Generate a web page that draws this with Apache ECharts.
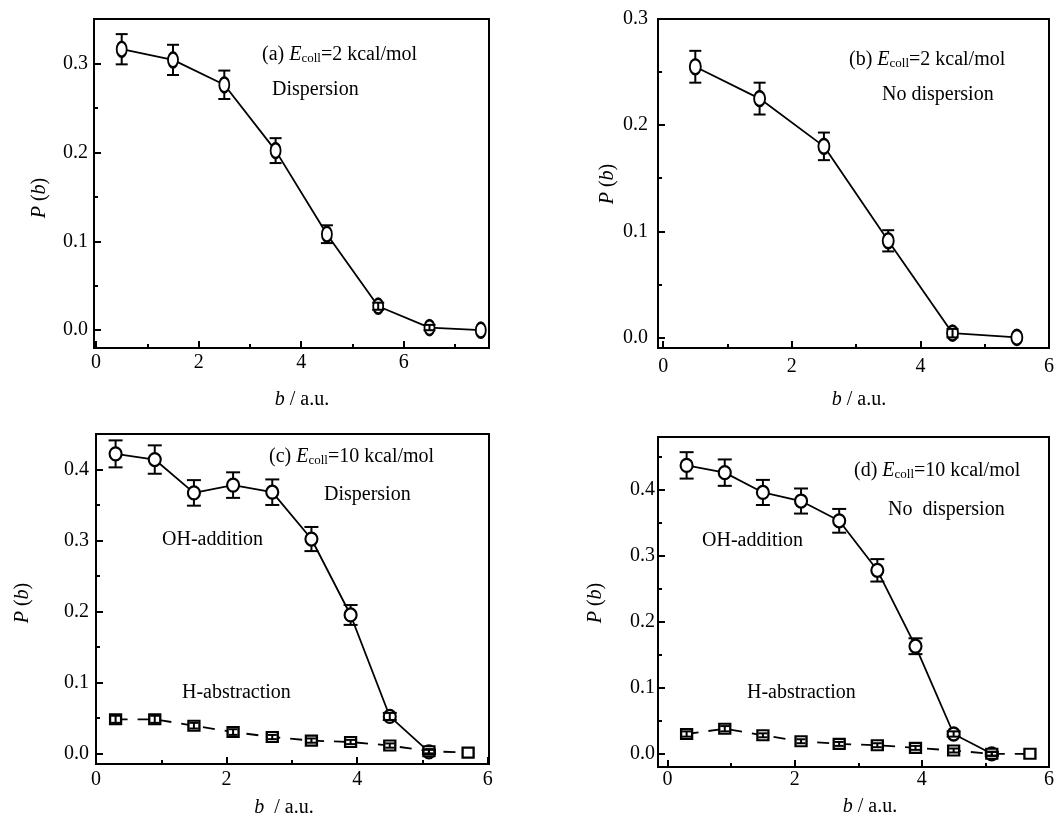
<!DOCTYPE html>
<html>
<head>
<meta charset="utf-8">
<script src="https://cdn.jsdelivr.net/npm/echarts@6/dist/echarts.min.js"></script>
<style>
html,body{margin:0;padding:0;background:#fff;}
#chart{width:1058px;height:817px;}
</style>
</head>
<body>
<div id="chart"></div>
<script>
// ---- data ----
const xA = [0.5, 1.5, 2.5, 3.5, 4.5, 5.5, 6.5, 7.5];
const yA = [0.316, 0.304, 0.276, 0.202, 0.108, 0.027, 0.003, 0.000];
const eA = [0.017, 0.017, 0.016, 0.014, 0.010, 0.004, 0.003, 0];

const xB = [0.5, 1.5, 2.5, 3.5, 4.5, 5.5];
const yB = [0.255, 0.225, 0.180, 0.091, 0.004, 0.000];
const eB = [0.015, 0.015, 0.013, 0.010, 0.004, 0];

const xOH = [0.3, 0.9, 1.5, 2.1, 2.7, 3.3, 3.9, 4.5, 5.1];
const xH = [0.3, 0.9, 1.5, 2.1, 2.7, 3.3, 3.9, 4.5, 5.1, 5.7];

const yC_OH = [0.422, 0.414, 0.367, 0.378, 0.368, 0.302, 0.195, 0.052, 0.002];
const eC_OH = [0.019, 0.020, 0.018, 0.018, 0.018, 0.017, 0.014, 0.005, 0.003];
const yC_H = [0.048, 0.048, 0.039, 0.030, 0.023, 0.018, 0.016, 0.011, 0.003, 0.001];
const eC_H = [0.005, 0.005, 0.004, 0.004, 0.003, 0.003, 0.003, 0.003, 0.003, 0];

const yD_OH = [0.437, 0.426, 0.396, 0.383, 0.353, 0.278, 0.163, 0.030, 0.000];
const eD_OH = [0.020, 0.020, 0.019, 0.019, 0.018, 0.017, 0.012, 0.004, 0.003];
const yD_H = [0.030, 0.038, 0.028, 0.019, 0.015, 0.013, 0.009, 0.005, 0.000, 0.000];
const eD_H = [0.004, 0.004, 0.003, 0.003, 0.003, 0.003, 0.003, 0.003, 0.003, 0];

const xMajor_A = [0, 2, 4, 6];
const xMinor_A = [1, 3, 5, 7];
const xMajor = [0, 2, 4, 6];
const xMinor = [1, 3, 5];
const yMajorAB = [0, 0.1, 0.2, 0.3];
const yMinorAB = [0.05, 0.15, 0.25];
const yMajorCD = [0, 0.1, 0.2, 0.3, 0.4];
const yMinorCD = [0.05, 0.15, 0.25, 0.35, 0.45];

// ---- helpers ----
const FF = '"Liberation Serif","Times New Roman",serif';
const BLACK = '#000';

const grids = [
  {left: 94, top: 19, width: 395, height: 329},
  {left: 658, top: 19, width: 391, height: 329},
  {left: 96, top: 434, width: 393, height: 330},
  {left: 658, top: 437, width: 391, height: 330}
].map(g => Object.assign({show: true, borderColor: BLACK, borderWidth: 2, backgroundColor: 'transparent'}, g));

const panels = [
  {x: [-0.04, 7.66], y: [-0.02, 0.35], xMaj: xMajor_A, xMin: xMinor_A, yMaj: yMajorAB, yMin: yMinorAB, xm: 5, ym: 6},
  {x: [-0.08, 6.0], y: [-0.01, 0.3], xMaj: xMajor, xMin: xMinor, yMaj: yMajorAB, yMin: yMinorAB, xm: 9, ym: 10},
  {x: [0, 6.02], y: [-0.015, 0.45], xMaj: xMajor, xMin: xMinor, yMaj: yMajorCD, yMin: yMinorCD, xm: 6, ym: 7},
  {x: [-0.15, 6.0], y: [-0.02, 0.48], xMaj: xMajor, xMin: xMinor, yMaj: yMajorCD, yMin: yMinorCD, xm: 3, ym: 3}
];

const xAxes = [], yAxes = [];
panels.forEach((p, i) => {
  xAxes.push({
    type: 'value', gridIndex: i, position: 'bottom', min: p.x[0], max: p.x[1],
    axisLine: {show: false, onZero: false}, splitLine: {show: false},
    axisTick: {show: true, inside: true, length: 7, customValues: p.xMaj, lineStyle: {color: BLACK, width: 2}},
    axisLabel: {show: true, customValues: p.xMaj, margin: p.xm, color: BLACK, fontSize: 20, fontFamily: FF,
      formatter: v => String(Math.round(v))}
  });
  xAxes.push({
    type: 'value', gridIndex: i, position: 'bottom', min: p.x[0], max: p.x[1],
    axisLine: {show: false, onZero: false}, splitLine: {show: false}, axisLabel: {show: false},
    axisTick: {show: true, inside: true, length: 4, customValues: p.xMin, lineStyle: {color: BLACK, width: 2}}
  });
  yAxes.push({
    type: 'value', gridIndex: i, position: 'left', min: p.y[0], max: p.y[1],
    axisLine: {show: false, onZero: false}, splitLine: {show: false},
    axisTick: {show: true, inside: true, length: 7, customValues: p.yMaj, lineStyle: {color: BLACK, width: 2}},
    axisLabel: {show: true, customValues: p.yMaj, margin: p.ym, color: BLACK, fontSize: 20, fontFamily: FF,
      formatter: v => v.toFixed(1)}
  });
  yAxes.push({
    type: 'value', gridIndex: i, position: 'left', min: p.y[0], max: p.y[1],
    axisLine: {show: false, onZero: false}, splitLine: {show: false}, axisLabel: {show: false},
    axisTick: {show: true, inside: true, length: 4, customValues: p.yMin, lineStyle: {color: BLACK, width: 2}}
  });
});

function pairs(xs, ys) { return xs.map((x, i) => [x, ys[i]]); }
function triples(xs, ys, es) { return xs.map((x, i) => [x, ys[i], es[i]]); }

function lineSeries(gi, xs, ys, symbol, size, dashed) {
  return {
    type: 'line', xAxisIndex: gi * 2, yAxisIndex: gi * 2, data: pairs(xs, ys),
    symbol: symbol, symbolSize: size, showSymbol: true, animation: false, z: 3,
    lineStyle: {color: BLACK, width: 1.8, type: dashed ? [12, 10] : 'solid'},
    itemStyle: {color: '#fff', borderColor: BLACK, borderWidth: 2.2}
  };
}

function errSeries(gi, xs, ys, es, halfH, capW) {
  return {
    type: 'custom', xAxisIndex: gi * 2, yAxisIndex: gi * 2, data: triples(xs, ys, es),
    encode: {x: 0, y: 1}, animation: false, z: 4, silent: true,
    renderItem: function (params, api) {
      const x = api.value(0), y = api.value(1), e = api.value(2);
      if (!(e > 0)) return null;
      const c = api.coord([x, y]);
      const t = api.coord([x, y + e]);
      const b = api.coord([x, y - e]);
      const st = {stroke: BLACK, lineWidth: 2};
      const ch = [
        {type: 'line', shape: {x1: t[0] - capW, y1: t[1], x2: t[0] + capW, y2: t[1]}, style: st},
        {type: 'line', shape: {x1: b[0] - capW, y1: b[1], x2: b[0] + capW, y2: b[1]}, style: st}
      ];
      if (t[1] < c[1] - halfH) ch.push({type: 'line', shape: {x1: c[0], y1: t[1], x2: c[0], y2: c[1] - halfH}, style: st});
      else ch.push({type: 'line', shape: {x1: c[0], y1: t[1], x2: c[0], y2: b[1]}, style: st});
      if (b[1] > c[1] + halfH) ch.push({type: 'line', shape: {x1: c[0], y1: c[1] + halfH, x2: c[0], y2: b[1]}, style: st});
      return {type: 'group', children: ch};
    }
  };
}

const series = [
  lineSeries(0, xA, yA, 'circle', [10, 15], false),
  errSeries(0, xA, yA, eA, 7.5, 6),
  lineSeries(1, xB, yB, 'circle', [11, 15], false),
  errSeries(1, xB, yB, eB, 7.5, 6),
  lineSeries(2, xOH, yC_OH, 'circle', [12, 13], false),
  errSeries(2, xOH, yC_OH, eC_OH, 6.5, 7),
  lineSeries(2, xH, yC_H, 'rect', [11, 10], true),
  errSeries(2, xH, yC_H, eC_H, 5, 4.5),
  lineSeries(3, xOH, yD_OH, 'circle', [12, 13], false),
  errSeries(3, xOH, yD_OH, eD_OH, 6.5, 7),
  lineSeries(3, xH, yD_H, 'rect', [11, 10], true),
  errSeries(3, xH, yD_H, eD_H, 5, 4.5)
];

// ---- text ----
const rich = {
  i: {fontStyle: 'italic', fontSize: 20, fontFamily: FF, fill: BLACK},
  s: {fontSize: 13, fontFamily: FF, fill: BLACK, verticalAlign: 'bottom', lineHeight: 8},
  n: {fontSize: 20, fontFamily: FF, fill: BLACK}
};
function txt(text, x, y) {
  return {
    type: 'text', x: x, y: y, z: 10, silent: true,
    style: {text: text, rich: rich, fontSize: 20, fontFamily: FF, fill: BLACK, align: 'left', verticalAlign: 'middle'}
  };
}
function yName(x, y) {
  return {type: 'text', x: x, y: y, rotation: Math.PI / 2, z: 10, silent: true,
    style: {text: '{i|P} ({i|b})', rich: rich, fontSize: 20, fontFamily: FF, fill: BLACK, align: 'center', verticalAlign: 'middle'}};
}
function xName(text, x, y) {
  return {type: 'text', x: x, y: y, z: 10, silent: true,
    style: {text: text, rich: rich, fontSize: 20, fontFamily: FF, fill: BLACK, align: 'center', verticalAlign: 'middle'}};
}

const graphics = [
  txt('{n|(a) }{i|E}{s|coll}{n|=2 kcal/mol}', 262, 55),
  txt('Dispersion', 272, 90),
  txt('{n|(b) }{i|E}{s|coll}{n|=2 kcal/mol}', 849, 60),
  txt('No dispersion', 882, 95),
  txt('{n|(c) }{i|E}{s|coll}{n|=10 kcal/mol}', 269, 457),
  txt('Dispersion', 324, 495),
  txt('OH-addition', 162, 540),
  txt('H-abstraction', 182, 693),
  txt('{n|(d) }{i|E}{s|coll}{n|=10 kcal/mol}', 854, 471),
  txt('No  dispersion', 888, 510),
  txt('OH-addition', 702, 541),
  txt('H-abstraction', 747, 693),
  yName(40, 198), yName(608, 184), yName(23, 603), yName(596, 603),
  xName('{i|b} / a.u.', 302, 400), xName('{i|b} / a.u.', 859, 400),
  xName('{i|b}  / a.u.', 284, 808), xName('{i|b} / a.u.', 870, 807)
];

const chart = echarts.init(document.getElementById('chart'), null, {renderer: 'canvas'});
chart.setOption({
  animation: false,
  backgroundColor: '#fff',
  grid: grids,
  xAxis: xAxes,
  yAxis: yAxes,
  series: series,
  graphic: graphics
});
</script>
</body>
</html>
